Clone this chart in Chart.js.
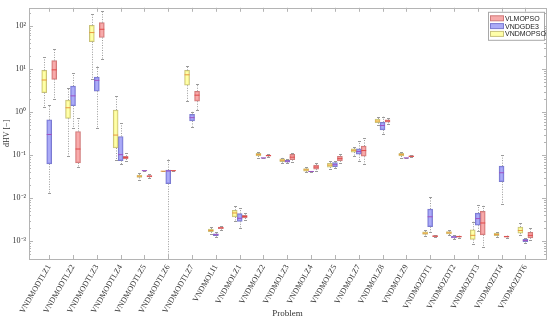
<!DOCTYPE html>
<html>
<head>
<meta charset="utf-8">
<script src="https://cdn.jsdelivr.net/npm/chart.js@4.4.0/dist/chart.umd.min.js"></script>
<style>
  body { margin: 0; background: #fff; }
</style>
</head>
<body>
<canvas id="grafica" width="550" height="320"></canvas>
<script>
// Problemas (eje x)
const problemas = ['VNDMODTLZ1', 'VNDMODTLZ2', 'VNDMODTLZ3', 'VNDMODTLZ4', 'VNDMODTLZ5', 'VNDMODTLZ6', 'VNDMODTLZ7',
  'VNDMOLI1', 'VNDMOLZ1', 'VNDMOLZ2', 'VNDMOLZ3', 'VNDMOLZ4', 'VNDMOLZ5', 'VNDMOLZ7', 'VNDMOLZ8', 'VNDMOLZ9',
  'VNDMOZDT1', 'VNDMOZDT2', 'VNDMOZDT3', 'VNDMOZDT4', 'VNDMOZDT6'];

// VNDMOPSO (amarillo): minimo, cuartil 1, mediana, cuartil 3, maximo
const psoMin = [1.33, 0.094, 5.94, 0.0794, 0.0265, 0.0423, 1.79, 0.00145, 0.00305, 0.088, 0.066, 0.040, 0.048, 0.098, 0.50, 0.088, 0.00135, 0.00138, 0.00089, 0.00126, 0.00138];
const psoQ1 = [2.83, 0.716, 43, 0.147, 0.0305, 0.0424, 4.19, 0.00167, 0.00369, 0.096, 0.071, 0.0425, 0.053, 0.118, 0.57, 0.096, 0.00145, 0.00148, 0.00111, 0.00136, 0.00155];
const psoMed = [5.55, 1.26, 70, 0.293, 0.0325, 0.0425, 7.33, 0.00179, 0.00456, 0.103, 0.0764, 0.0457, 0.0587, 0.130, 0.62, 0.103, 0.00155, 0.00158, 0.00138, 0.00145, 0.00179];
const psoQ3 = [9.25, 1.9, 103, 1.12, 0.0345, 0.0426, 9.25, 0.00193, 0.00525, 0.110, 0.082, 0.049, 0.065, 0.140, 0.69, 0.110, 0.00166, 0.00168, 0.00186, 0.00155, 0.00214];
const psoMax = [18.7, 3.63, 185, 2.32, 0.0395, 0.0427, 12.05, 0.0022, 0.0066, 0.120, 0.088, 0.052, 0.072, 0.158, 0.76, 0.120, 0.0018, 0.00182, 0.00285, 0.00168, 0.00266];

// VNDGDE3 (azul)
const gdeMin = [0.0135, 0.42, 0.42, 0.061, 0.0435, 0.000001, 0.461, 0.00125, 0.00206, 0.085, 0.066, 0.0412, 0.050, 0.0724, 0.31, 0.085, 0.00163, 0.00112, 0.00172, 0.0073, 0.00092];
const gdeQ1 = [0.0628, 1.40, 3.05, 0.075, 0.0436, 0.0218, 0.624, 0.00136, 0.00292, 0.0858, 0.069, 0.0416, 0.054, 0.105, 0.387, 0.0858, 0.00219, 0.0012, 0.00237, 0.0243, 0.00099];
const gdeMed = [0.302, 2.38, 5.46, 0.103, 0.0437, 0.043, 0.743, 0.00143, 0.00343, 0.0863, 0.0724, 0.0419, 0.060, 0.122, 0.488, 0.0863, 0.00372, 0.00126, 0.00338, 0.0391, 0.00105];
const gdeQ3 = [0.665, 4.04, 6.5, 0.272, 0.0438, 0.0451, 0.885, 0.0015, 0.0044, 0.0868, 0.076, 0.0422, 0.067, 0.140, 0.58, 0.0868, 0.00564, 0.00132, 0.00454, 0.0557, 0.00111];
const gdeMax = [1.47, 8.0, 11.4, 0.55, 0.0439, 0.0794, 1.02, 0.00163, 0.0059, 0.0875, 0.080, 0.0426, 0.074, 0.21, 0.78, 0.0875, 0.0108, 0.0014, 0.007, 0.1016, 0.00118];

// VLMOPSO (rojo)
const vlmMin = [2.03, 0.0528, 17.1, 0.0724, 0.0295, 0.0435, 1.12, 0.00185, 0.0032, 0.090, 0.070, 0.043, 0.067, 0.061, 0.54, 0.090, 0.00125, 0.00123, 0.00074, 0.00123, 0.00105];
const vlmQ1 = [5.76, 0.0662, 53.8, 0.0818, 0.0315, 0.0436, 1.79, 0.00197, 0.0035, 0.095, 0.0785, 0.0475, 0.074, 0.0944, 0.58, 0.092, 0.00128, 0.00126, 0.00142, 0.00126, 0.00121];
const vlmMed = [9.55, 0.139, 83.6, 0.088, 0.0325, 0.0437, 2.47, 0.00206, 0.00377, 0.098, 0.090, 0.053, 0.083, 0.128, 0.62, 0.094, 0.00132, 0.00129, 0.00267, 0.00129, 0.00138];
const vlmQ3 = [15.7, 0.354, 119, 0.0944, 0.0335, 0.0438, 3.05, 0.00215, 0.00402, 0.101, 0.104, 0.0589, 0.0944, 0.163, 0.66, 0.096, 0.00136, 0.00132, 0.00496, 0.00132, 0.00163];
const vlmMax = [29, 0.743, 221, 0.111, 0.036, 0.0439, 4.56, 0.0023, 0.0045, 0.106, 0.115, 0.065, 0.105, 0.245, 0.72, 0.099, 0.0014, 0.00136, 0.00667, 0.00136, 0.002];

// Etiquetas del eje y (potencias de 10)
const potencias = [-3, -2, -1, 0, 1, 2];
const superindices = { '-': '⁻', '0': '⁰', '1': '¹', '2': '²', '3': '³' };

const series = [
  { nombre: 'VNDMOPSO', min: psoMin, q1: psoQ1, med: psoMed, q3: psoQ3, max: psoMax,
    relleno: 'rgba(255,255,140,0.75)', borde: '#c9c27a', mediana: '#e8963e' },
  { nombre: 'VNDGDE3', min: gdeMin, q1: gdeQ1, med: gdeMed, q3: gdeQ3, max: gdeMax,
    relleno: 'rgba(150,150,245,0.8)', borde: '#7a7ad0', mediana: '#a050c0' },
  { nombre: 'VLMOPSO', min: vlmMin, q1: vlmQ1, med: vlmMed, q3: vlmQ3, max: vlmMax,
    relleno: 'rgba(245,150,150,0.8)', borde: '#d07a7a', mediana: '#e04848' }
];

// Bigotes, medianas, marcas internas y leyenda
const pluginCajas = {
  id: 'cajas',
  afterDatasetsDraw(chart) {
    const ctx = chart.ctx;
    const y = chart.scales.y;
    const area = chart.chartArea;
    ctx.save();
    ctx.beginPath();
    ctx.rect(area.left, area.top, area.right - area.left, area.bottom - area.top);
    ctx.clip();
    series.forEach((s, k) => {
      const meta = chart.getDatasetMeta(k);
      meta.data.forEach((barra, i) => {
        const cx = Math.round(barra.x) + 0.5;
        const yMin = y.getPixelForValue(s.min[i]);
        const yQ1 = y.getPixelForValue(s.q1[i]);
        const yQ3 = y.getPixelForValue(s.q3[i]);
        const yMax = y.getPixelForValue(s.max[i]);
        const yMed = y.getPixelForValue(s.med[i]);
        ctx.strokeStyle = '#9a9a9a';
        ctx.lineWidth = 1;
        ctx.setLineDash([1, 1.5]);
        ctx.beginPath();
        ctx.moveTo(cx, yQ3); ctx.lineTo(cx, yMax);
        ctx.moveTo(cx, yQ1); ctx.lineTo(cx, yMin);
        ctx.stroke();
        ctx.setLineDash([]);
        ctx.beginPath();
        ctx.moveTo(cx - 1.5, Math.round(yMax) + 0.5); ctx.lineTo(cx + 1.5, Math.round(yMax) + 0.5);
        ctx.moveTo(cx - 1.5, Math.round(yMin) + 0.5); ctx.lineTo(cx + 1.5, Math.round(yMin) + 0.5);
        ctx.stroke();
        ctx.strokeStyle = s.mediana;
        ctx.beginPath();
        ctx.moveTo(barra.x - barra.width / 2, yMed);
        ctx.lineTo(barra.x + barra.width / 2, yMed);
        ctx.stroke();
      });
    });
    ctx.restore();
  },
  afterDraw(chart) {
    const ctx = chart.ctx;
    const a = chart.chartArea;
    const x = chart.scales.x;
    const y = chart.scales.y;
    ctx.save();
    ctx.strokeStyle = '#b4b4b4';
    ctx.lineWidth = 1;
    ctx.strokeRect(Math.round(a.left) + 0.5, Math.round(a.top) + 0.5, Math.round(a.right - a.left), Math.round(a.bottom - a.top));
    ctx.beginPath();
    x.ticks.forEach(t => {
      const px = Math.round(x.getPixelForValue(t.value)) + 0.5;
      ctx.moveTo(px, a.bottom); ctx.lineTo(px, a.bottom - 4);
      ctx.moveTo(px, a.top); ctx.lineTo(px, a.top + 4);
    });
    y.ticks.forEach(t => {
      const py = Math.round(y.getPixelForValue(t.value)) + 0.5;
      const largo = t.mayor ? 4 : 2;
      ctx.moveTo(a.left, py); ctx.lineTo(a.left + largo, py);
      ctx.moveTo(a.right, py); ctx.lineTo(a.right - largo, py);
    });
    ctx.stroke();

    // Leyenda dentro del area del grafico
    const lx = a.right - 58, ly = a.top + 4;
    ctx.fillStyle = '#fff';
    ctx.fillRect(lx, ly, 56, 28);
    ctx.strokeStyle = '#a8a8a8';
    ctx.strokeRect(lx + 0.5, ly + 0.5, 56, 28);
    ctx.font = '7px "Liberation Sans", Arial, sans-serif';
    ctx.textBaseline = 'middle';
    series.slice().reverse().forEach((s, j) => {
      const fy = ly + 6.5 + j * 7.8;
      ctx.fillStyle = s.relleno;
      ctx.fillRect(lx + 2, fy - 2.5, 13, 5);
      ctx.strokeStyle = s.borde;
      ctx.strokeRect(lx + 2.5, fy - 2.5, 13, 5);
      ctx.fillStyle = '#222';
      ctx.fillText(s.nombre, lx + 17, fy + 0.5);
    });
    ctx.restore();
  }
};

const grafica = new Chart(document.getElementById('grafica'), {
  type: 'bar',
  data: {
    datasets: series.map(s => ({
      label: s.nombre,
      data: problemas.map((p, i) => ({ x: i + 1, y: [s.q1[i], s.q3[i]] })),
      backgroundColor: s.relleno,
      borderColor: s.borde,
      borderWidth: 1,
      borderSkipped: false,
      barThickness: 5
    }))
  },
  options: {
    responsive: false,
    animation: false,
    layout: { padding: { top: 5, right: 4, left: 0, bottom: 0 } },
    plugins: { legend: { display: false }, tooltip: { enabled: false } },
    scales: {
      x: {
        type: 'linear',
        min: 0.668,
        max: 21.35,
        grid: { display: false, drawTicks: false },
        border: { display: false },
        afterBuildTicks: scale => { scale.ticks = problemas.map((p, i) => ({ value: i + 1 })); },
        afterFit: scale => { scale.height = 61; },
        ticks: {
          autoSkip: false,
          minRotation: 60,
          maxRotation: 60,
          padding: 4,
          color: '#333',
          font: { family: '"Liberation Serif", serif', size: 8 },
          callback: v => problemas[v - 1]
        },
        title: {
          display: true,
          text: 'Problem',
          color: '#333',
          padding: { top: 0, bottom: 1 },
          font: { family: '"Liberation Serif", serif', size: 9 }
        }
      },
      y: {
        type: 'logarithmic',
        min: 0.00039,
        max: 263,
        grid: { display: false, drawTicks: false },
        border: { display: false },
        afterBuildTicks: scale => {
          const marcas = [];
          for (let n = -4; n <= 2; n++) {
            for (let m = 1; m <= 9; m++) {
              const v = m * Math.pow(10, n);
              if (v >= scale.min && v <= scale.max) marcas.push({ value: v, mayor: m === 1 });
            }
          }
          scale.ticks = marcas;
        },
        afterFit: scale => { scale.width = 29; },
        ticks: {
          autoSkip: false,
          padding: 3,
          color: '#333',
          font: { family: '"Liberation Serif", serif', size: 8 },
          callback: v => {
            const n = Math.round(Math.log10(v));
            if (Math.abs(v - Math.pow(10, n)) > 1e-9 * Math.pow(10, n) || !potencias.includes(n)) return '';
            return '10' + String(n).split('').map(c => superindices[c]).join('');
          }
        },
        title: {
          display: true,
          text: 'dHV [−]',
          color: '#333',
          padding: { top: 2, bottom: 0 },
          font: { family: '"Liberation Serif", serif', size: 8 }
        }
      }
    }
  },
  plugins: [pluginCajas]
});
</script>
</body>
</html>
